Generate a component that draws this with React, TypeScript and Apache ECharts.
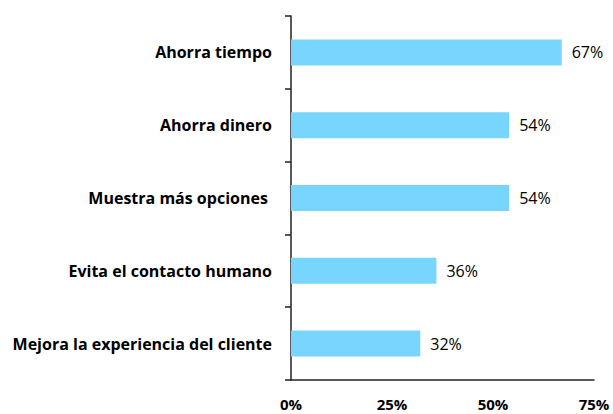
import React, { useEffect, useRef } from "react";
import * as echarts from "echarts";

const categories = [
  "Ahorra tiempo",
  "Ahorra dinero",
  "Muestra más opciones ",
  "Evita el contacto humano",
  "Mejora la experiencia del cliente",
];
const values = [67, 54, 54, 36, 32];
const xTicks = [0, 25, 50, 75];

const FONT = "'Open Sans', sans-serif";

export default function App() {
  const ref = useRef<HTMLDivElement>(null);
  useEffect(() => {
    if (!ref.current) return;
    const chart = echarts.init(ref.current, null, { renderer: "svg" });
    chart.setOption({
      animation: false,
      grid: { left: 291, right: 19, top: 16, bottom: 34, containLabel: false },
      xAxis: {
        type: "value",
        min: xTicks[0],
        max: xTicks[xTicks.length - 1],
        interval: 25,
        axisLine: { show: true, lineStyle: { color: "#222", width: 1.5 } },
        axisTick: { show: false },
        splitLine: { show: false },
        axisLabel: {
          formatter: (v: number) => v + "%",
          color: "#000",
          fontWeight: "bold",
          fontSize: 15,
          lineHeight: 15,
          fontFamily: FONT,
          margin: 16,
        },
      },
      yAxis: {
        type: "category",
        inverse: true,
        data: categories,
        axisLine: { show: true, lineStyle: { color: "#222", width: 1.5 } },
        axisTick: { show: true, inside: false, length: 6, lineStyle: { color: "#222", width: 1.5 } },
        axisLabel: {
          color: "#000",
          fontWeight: "bold",
          fontSize: 16,
          fontFamily: FONT,
          margin: 19,
        },
      },
      series: [
        {
          type: "bar",
          data: values,
          barWidth: 26,
          itemStyle: { color: "#77D5FE" },
          label: {
            show: true,
            position: "right",
            distance: 10,
            formatter: (p: any) => p.value + "%",
            color: "#000",
            fontSize: 16,
            fontFamily: FONT,
          },
        },
      ],
    });
    return () => chart.dispose();
  }, []);
  return <div ref={ref} style={{ width: 613, height: 414, position: "absolute", left: 0, top: 0 }} />;
}
